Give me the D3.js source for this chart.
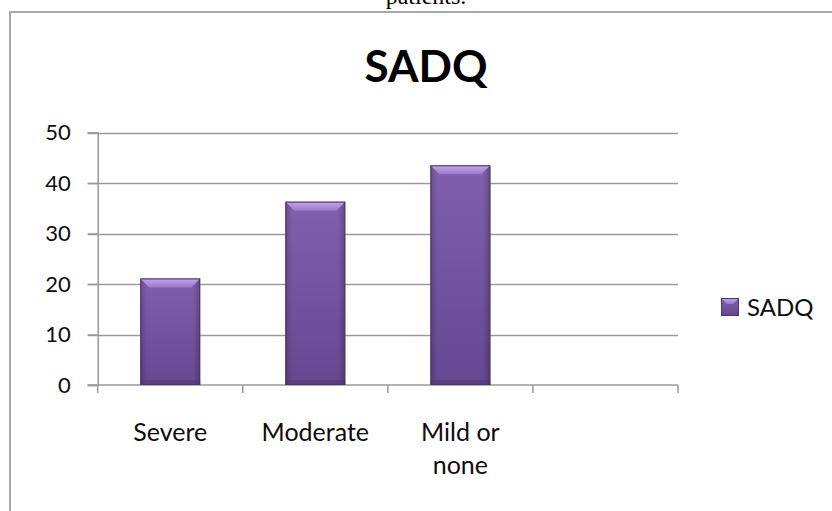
<!DOCTYPE html>
<html>
<head>
<meta charset="utf-8">
<script src="https://cdn.jsdelivr.net/npm/d3@7"></script>
<style>
  html, body { margin: 0; padding: 0; background: #fff; }
  svg { display: block; }
</style>
</head>
<body>
<svg id="chart" width="832" height="511"></svg>
<script>
const categories = ["Severe", "Moderate", "Mild or none", ""];
const values = [21.1, 36.3, 43.5, null];
const yTicks = [0, 10, 20, 30, 40, 50];
const seriesName = "SADQ";
const chartTitle = "SADQ";
const captionTail = "patients.";

const svg = d3.select("#chart");
const font = "Lato, 'Open Sans', sans-serif";

// background
svg.append("rect").attr("width", 832).attr("height", 511).attr("fill", "#fff");

// cut-off caption from the page above the chart
svg.append("text")
  .attr("x", 426).attr("y", 4)
  .attr("text-anchor", "middle")
  .attr("font-family", "'Liberation Serif', 'Times New Roman', serif")
  .attr("font-size", 24)
  .attr("fill", "#000")
  .text(captionTail);

// chart frame
svg.append("rect")
  .attr("x", 10).attr("y", 12)
  .attr("width", 900).attr("height", 600)
  .attr("fill", "none")
  .attr("stroke", "#a8a8a8")
  .attr("stroke-width", 2);

// defs: gradients
const defs = svg.append("defs");
const body = defs.append("linearGradient").attr("id", "barBody")
  .attr("x1", 0).attr("y1", 0).attr("x2", 0).attr("y2", 1);
body.append("stop").attr("offset", "0%").attr("stop-color", "#8060ad");
body.append("stop").attr("offset", "100%").attr("stop-color", "#654890");
const side = defs.append("linearGradient").attr("id", "barSide")
  .attr("x1", 0).attr("y1", 0).attr("x2", 1).attr("y2", 0);
side.append("stop").attr("offset", "0%").attr("stop-color", "#000").attr("stop-opacity", 0.18);
side.append("stop").attr("offset", "12%").attr("stop-color", "#000").attr("stop-opacity", 0);
side.append("stop").attr("offset", "88%").attr("stop-color", "#000").attr("stop-opacity", 0);
side.append("stop").attr("offset", "100%").attr("stop-color", "#000").attr("stop-opacity", 0.22);
const bevel = defs.append("linearGradient").attr("id", "barBevel")
  .attr("x1", 0).attr("y1", 0).attr("x2", 0).attr("y2", 1);
bevel.append("stop").attr("offset", "0%").attr("stop-color", "#c2a6ee");
bevel.append("stop").attr("offset", "100%").attr("stop-color", "#9a7acb");

// scales
const plotLeft = 97.7, plotRight = 678, plotTop = 132.5, plotBottom = 385;
const x = d3.scaleBand().domain(categories)
  .range([plotLeft, plotRight])
  .paddingInner(0.587).paddingOuter(0.2935);
const y = d3.scaleLinear().domain([0, 50]).range([plotBottom, plotTop]);

// gridlines
svg.append("g").selectAll("line").data(yTicks.filter(d => d > 0)).join("line")
  .attr("x1", plotLeft - 10).attr("x2", plotRight)
  .attr("y1", d => Math.round(y(d)) + 0.5).attr("y2", d => Math.round(y(d)) + 0.5)
  .attr("stroke", "#9a9a9a").attr("stroke-width", 1.5);

// y axis
const yAxis = d3.axisLeft(y).tickValues(yTicks).tickSize(10).tickPadding(17);
const gy = svg.append("g").attr("transform", `translate(${plotLeft},0)`).call(yAxis);
gy.select(".domain").attr("stroke", "#9a9a9a").attr("stroke-width", 1.5);
gy.selectAll(".tick line").attr("stroke", "#9a9a9a").attr("stroke-width", 1.5);
gy.selectAll(".tick text")
  .attr("font-family", font).attr("font-size", 22).attr("fill", "#0d0d0d");

// x axis line and ticks at band boundaries
const boundaries = categories.map(c => x(c) - x.step() * x.paddingInner() / 2);
boundaries.push(plotRight);
svg.append("line")
  .attr("x1", plotLeft - 10).attr("x2", plotRight)
  .attr("y1", plotBottom).attr("y2", plotBottom)
  .attr("stroke", "#9a9a9a").attr("stroke-width", 1.5);
svg.append("g").selectAll("line").data(boundaries).join("line")
  .attr("x1", d => d).attr("x2", d => d)
  .attr("y1", plotBottom).attr("y2", plotBottom + 8)
  .attr("stroke", "#9a9a9a").attr("stroke-width", 1.5);

// bars
const barData = categories.map((c, i) => ({ c, v: values[i] })).filter(d => d.v != null);
const bars = svg.append("g").selectAll("g").data(barData).join("g");
bars.append("rect")
  .attr("x", d => x(d.c)).attr("y", d => y(d.v))
  .attr("width", x.bandwidth()).attr("height", d => y(0) - y(d.v))
  .attr("fill", "url(#barBody)");
bars.append("rect")
  .attr("x", d => x(d.c)).attr("y", d => y(d.v))
  .attr("width", x.bandwidth()).attr("height", d => y(0) - y(d.v))
  .attr("fill", "url(#barSide)");
bars.append("path")
  .attr("d", d => {
    const x0 = x(d.c), x1 = x0 + x.bandwidth(), t = y(d.v), b = 9;
    return `M${x0},${t}L${x1},${t}L${x1 - b},${t + b}L${x0 + b},${t + b}Z`;
  })
  .attr("fill", "url(#barBevel)");
bars.append("rect")
  .attr("x", d => x(d.c)).attr("y", d => y(0) - 5)
  .attr("width", x.bandwidth()).attr("height", 5)
  .attr("fill", "#4e3872").attr("opacity", 0.45);
bars.append("rect")
  .attr("x", d => x(d.c) + 0.5).attr("y", d => y(d.v) + 0.5)
  .attr("width", x.bandwidth() - 1).attr("height", d => y(0) - y(d.v) - 1)
  .attr("fill", "none").attr("stroke", "#4a3470").attr("stroke-width", 1);

// category labels (wrapped)
const labels = svg.append("g").selectAll("text").data(categories).join("text")
  .attr("text-anchor", "middle")
  .attr("font-family", font).attr("font-size", 25).attr("fill", "#0d0d0d");
labels.each(function (c) {
  const words = c.split(" ");
  const lines = words.length > 2 ? [words.slice(0, 2).join(" "), words.slice(2).join(" ")] : [c];
  const cx = x(c) + x.bandwidth() / 2;
  d3.select(this).selectAll("tspan").data(lines).join("tspan")
    .attr("x", cx).attr("y", (d, i) => 441 + i * 33).text(d => d);
});

// title
svg.append("text")
  .attr("x", 426).attr("y", 82)
  .attr("text-anchor", "middle")
  .attr("font-family", font).attr("font-weight", "bold").attr("font-size", 44)
  .attr("fill", "#000")
  .text(chartTitle);

// legend
const lg = svg.append("g").attr("transform", "translate(721,298)");
lg.append("rect").attr("width", 18).attr("height", 18).attr("fill", "url(#barBody)");
lg.append("path").attr("d", "M0,0L18,0L12,6L6,6Z").attr("fill", "url(#barBevel)");
lg.append("rect").attr("x", 0.5).attr("y", 0.5).attr("width", 17).attr("height", 17)
  .attr("fill", "none").attr("stroke", "#4a3470");
lg.append("text").attr("x", 26).attr("y", 18)
  .attr("font-family", font).attr("font-size", 24).attr("fill", "#0d0d0d")
  .text(seriesName);
</script>
</body>
</html>
